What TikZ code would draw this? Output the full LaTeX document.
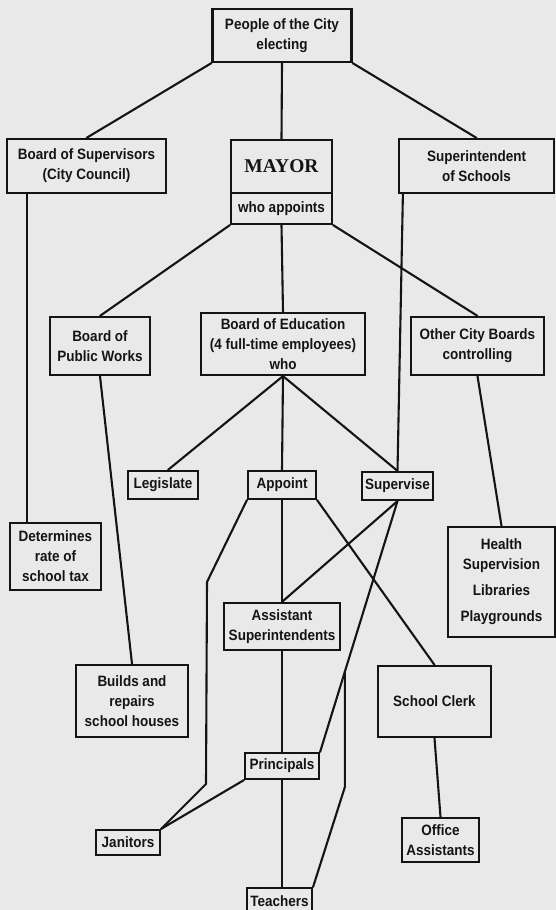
\documentclass[tikz,border=0pt]{standalone}
\usepackage{fontspec}
\setmainfont{Liberation Sans}[FakeStretch=0.9]
\newfontfamily\mayorfont{Liberation Serif}
\usepackage{tikz}
\usetikzlibrary{calc}
\definecolor{ocPaper}{RGB}{233, 233, 233}
\definecolor{ocInk}{RGB}{20, 20, 20}
\tikzset{
    base/.style={
        font=\bfseries\fontsize{15}{20}\selectfont,
        align=center,
        text=ocInk
    },
    orgbox/.style={
        base,
        rectangle,
        draw=ocInk,
        line width=2.2pt,
        inner sep=0pt
    },
    link/.style={
        draw=ocInk,
        line width=2.1pt,
        line cap=round,
        line join=round
    }
}

\begin{document}
\begin{tikzpicture}[x=1pt, y=-1pt]
    % Paper
    \useasboundingbox (0,0) rectangle (556,910);
    \fill[ocPaper] (0,0) rectangle (556,910);

    % Electors and elected
    \node[orgbox, minimum width=139pt, minimum height=53pt] (people) at (282,35.5) {People of the City\\electing};
    \node[orgbox, minimum width=159pt, minimum height=54pt] (bos) at (86.5,166) {Board of Supervisors\\(City Council)};
    \node[orgbox, minimum width=101pt, minimum height=53pt, font=\mayorfont\bfseries\fontsize{19.5}{22}\selectfont] (mayor) at (281.5,166.5) {MAYOR};
    \node[orgbox, minimum width=101pt, minimum height=31pt] (who) at (281.5,208.5) {who appoints};
    \node[orgbox, minimum width=155pt, minimum height=54pt] (supt) at (476.5,166) {Superintendent\\of Schools};

    % Appointed boards
    \node[orgbox, minimum width=100pt, minimum height=58pt] (bpw) at (100,346) {Board of\\Public Works};
    \node[orgbox, minimum width=164pt, minimum height=62pt] (boe) at (283,344) {Board of Education\\(4 full-time employees)\\who};
    \node[orgbox, minimum width=133pt, minimum height=58pt] (other) at (477.5,346) {Other City Boards\\controlling};

    % Duties
    \node[orgbox, minimum width=70pt, minimum height=28pt] (legis) at (163,485) {Legislate};
    \node[orgbox, minimum width=68pt, minimum height=28pt] (appoint) at (282,485) {Appoint};
    \node[orgbox, minimum width=71pt, minimum height=28pt] (superv) at (397.5,486) {Supervise};
    \node[orgbox, minimum width=91pt, minimum height=67pt] (determ) at (55.5,556.5) {Determines\\rate of\\school tax};
    \node[orgbox, minimum width=107pt, minimum height=110pt] (health) at (501.5,582) {Health\\Supervision\\[6pt]Libraries\\[6pt]Playgrounds};

    % Staff
    \node[orgbox, minimum width=116pt, minimum height=47pt] (asst) at (282,626.5) {Assistant\\Superintendents};
    \node[orgbox, minimum width=112pt, minimum height=72pt] (builds) at (132,701) {Builds and\\repairs\\school houses};
    \node[orgbox, minimum width=113pt, minimum height=71pt] (clerk) at (434.5,701.5) {School Clerk};
    \node[orgbox, minimum width=74pt, minimum height=26pt] (princ) at (282,766) {Principals};
    \node[orgbox, minimum width=64pt, minimum height=25pt] (janit) at (128,842.5) {Janitors};
    \node[orgbox, minimum width=77pt, minimum height=44pt] (office) at (440.5,840) {Office\\Assistants};
    \node[orgbox, minimum width=65pt, minimum height=27pt] (teach) at (279.5,901.5) {Teachers};

    % Top level
    \draw[link] (people.south west) -- (bos.north);
    \draw[link] (people.south) -- (mayor.north);
    \draw[link] (people.south east) -- (supt.north);
    \draw[link] ([xshift=21pt]bos.south west) -- ([xshift=18pt]determ.north west);
    \draw[link] ([xshift=5pt]supt.south west) -- (superv.north);

    % Mayor appoints
    \draw[link] (who.south west) -- (bpw.north);
    \draw[link] (who.south) -- (boe.north);
    \draw[link] (who.south east) -- (other.north);
    \draw[link] (bpw.south) -- (builds.north);
    \draw[link] (other.south) -- (health.north);

    % Board of Education
    \draw[link] (boe.south) -- ([xshift=5pt]legis.north);
    \draw[link] (boe.south) -- (appoint.north);
    \draw[link] (boe.south) -- (superv.north);

    % Appoint
    \draw[link] (appoint.south) -- (asst.north);
    \draw[link] (appoint.south west) -- (207,582) -- (206,784) -- (janit.north east);
    \draw[link] (appoint.south east) -- (clerk.north);

    % Supervise
    \coordinate (tb) at ($(superv.south)!0.68!(princ.north east)$);
    \draw[link] (superv.south) -- (asst.north);
    \draw[link] (superv.south) -- (princ.north east);
    \draw[link] (tb) -- (tb |- 0,787) -- (teach.north east);

    % Lower staff
    \draw[link] (asst.south) -- (princ.north);
    \draw[link] (princ.south) -- (princ.south |- teach.north);
    \draw[link] (princ.south west) -- (janit.north east);
    \draw[link] (clerk.south) -- (office.north);
\end{tikzpicture}
\end{document}
